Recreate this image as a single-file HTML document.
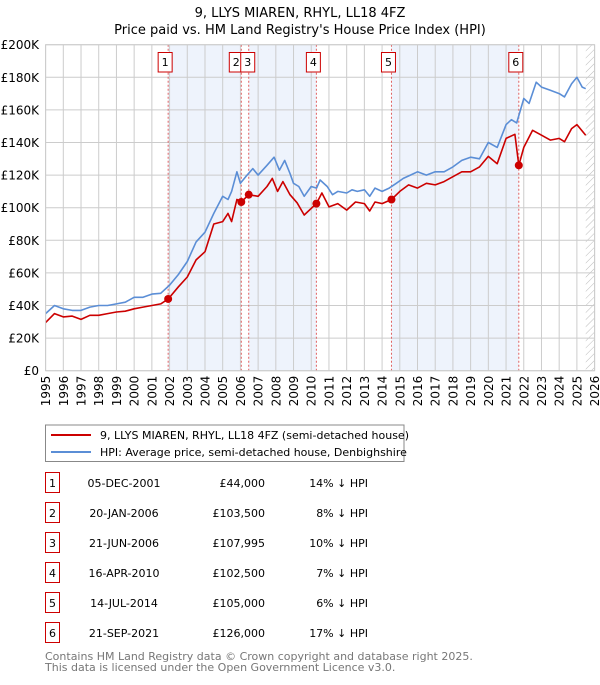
<!DOCTYPE html>
<html><head><meta charset="utf-8"><style>
body{margin:0;background:#fff;font-family:"Liberation Sans","DejaVu Sans",sans-serif;}
svg text{font-family:"DejaVu Sans","Liberation Sans",sans-serif;}
</style></head><body>
<svg id="c" width="600" height="680" xmlns="http://www.w3.org/2000/svg">
<defs><pattern id="hatch" width="5" height="5" patternUnits="userSpaceOnUse" patternTransform="rotate(45)"><line x1="0" y1="0" x2="0" y2="5" stroke="#bbb" stroke-width="1"/></pattern></defs>
<text x="300" y="17" text-anchor="middle" font-size="13">9, LLYS MIAREN, RHYL, LL18 4FZ</text>
<text x="300" y="34" text-anchor="middle" font-size="13">Price paid vs. HM Land Registry's House Price Index (HPI)</text>
<g id="plot"></g>
<rect x="45.5" y="425" width="358.5" height="36.5" fill="#fff" stroke="#888"/>
<line x1="51" y1="435" x2="91" y2="435" stroke="#cc0000" stroke-width="2"/>
<text x="100" y="439" font-size="11">9, LLYS MIAREN, RHYL, LL18 4FZ (semi-detached house)</text>
<line x1="51" y1="452" x2="91" y2="452" stroke="#5b8ed6" stroke-width="2"/>
<text x="100" y="456" font-size="11">HPI: Average price, semi-detached house, Denbighshire</text>
<g id="table"></g>
<text x="45" y="660" font-size="11" fill="#777">Contains HM Land Registry data © Crown copyright and database right 2025.</text>
<text x="45" y="671" font-size="11" fill="#777">This data is licensed under the Open Government Licence v3.0.</text>
</svg>
<script>
const hpiYears=[1995,1995.5,1996,1996.5,1997,1997.5,1998,1998.5,1999,1999.5,2000,2000.5,2001,2001.5,2002,2002.5,2003,2003.5,2004,2004.5,2005,2005.3,2005.5,2005.8,2006,2006.3,2006.7,2007,2007.5,2007.9,2008.2,2008.5,2008.8,2009,2009.3,2009.6,2010,2010.3,2010.5,2010.9,2011.2,2011.5,2012,2012.3,2012.6,2013,2013.3,2013.6,2014,2014.4,2014.8,2015.2,2015.6,2016,2016.5,2017,2017.5,2018,2018.5,2019,2019.5,2020,2020.5,2021,2021.3,2021.6,2022,2022.3,2022.7,2023,2023.5,2024,2024.3,2024.7,2025,2025.3,2025.5];
const hpiValues=[35,40,38,37,37,39,40,40,41,42,45,45,47,47.5,52.5,59,67,79,85,96.5,107,105,110,122,115,119,124,120,126,131,123,129,121,115,113,107,113,112,117,113,108,110,109,111,110,111,107,112,110,112,115,118,120,122,120,122,122,125,129,131,130,140,137,151,154,152,167,164,177,174,172,170,168,176,180,174,173];
const propYears=[1995,1995.5,1996,1996.5,1997,1997.5,1998,1998.5,1999,1999.5,2000,2000.5,2001,2001.5,2001.92,2002.5,2003,2003.5,2004,2004.5,2005,2005.3,2005.5,2005.8,2006.05,2006.47,2007,2007.5,2007.8,2008.1,2008.4,2008.8,2009.2,2009.6,2010.29,2010.6,2011,2011.5,2012,2012.5,2013,2013.3,2013.6,2014,2014.53,2015,2015.5,2016,2016.5,2017,2017.5,2018,2018.5,2019,2019.5,2020,2020.5,2021,2021.5,2021.72,2022,2022.5,2023,2023.5,2024,2024.3,2024.7,2025,2025.5];
const propValues=[29.5,35,33,33.5,31.5,34,34,35,36,36.5,38,39,40,41,44,51.5,57.5,68,73,90,91.5,96.5,91.5,105,103.5,108,107,113,118,110,116,108,103,95.5,102.5,109,100.5,102.5,98.5,103.5,102.5,98,103.5,102.5,105,110,114,112,115,114,116,119,122,122,125,131.5,127,142.5,145,126,137,147.5,144.5,141.5,142.5,140.5,148.5,151,144.5];
const saleYears=[2001.92,2006.05,2006.47,2010.29,2014.53,2021.72];
const salePrices=[44000,103500,107995,102500,105000,126000];
const saleLabels=["1","2","3","4","5","6"];
const saleDates=["05-DEC-2001","20-JAN-2006","21-JUN-2006","16-APR-2010","14-JUL-2014","21-SEP-2021"];
const salePriceText=["£44,000","£103,500","£107,995","£102,500","£105,000","£126,000"];
const saleHpiText=["14% ↓ HPI","8% ↓ HPI","10% ↓ HPI","7% ↓ HPI","6% ↓ HPI","17% ↓ HPI"];
const yTicks=[0,20,40,60,80,100,120,140,160,180,200];
const yTickLabels=["£0","£20K","£40K","£60K","£80K","£100K","£120K","£140K","£160K","£180K","£200K"];

const NS="http://www.w3.org/2000/svg";
const X0=45.6,X1=594.6,Y0=370.7,Y1=44.7;
const xs=y=>X0+(y-1995)/(2026-1995)*(X1-X0);
const ys=v=>Y0-v/200*(Y0-Y1);
function mk(tag,attrs,parent){const e=document.createElementNS(NS,tag);for(const k in attrs)e.setAttribute(k,attrs[k]);parent.appendChild(e);return e;}
const plot=document.getElementById('plot');
// shaded spans
[[0,1],[2,3],[4,5]].forEach(p=>{
 const r=mk('rect',{x:xs(saleYears[p[0]]),y:Y1,width:xs(saleYears[p[1]])-xs(saleYears[p[0]]),height:Y0-Y1,fill:'#eef3fc'},plot);
 
 
});
const hx=xs(2025.5);
const hr=mk('rect',{x:hx,y:Y1,width:X1-hx,height:Y0-Y1,fill:'url(#hatch)'},plot);


// grid
for(let yr=1995;yr<=2026;yr++){
 const g=mk('line',{x1:xs(yr),x2:xs(yr),y1:Y1,y2:Y0,stroke:'#ccc','stroke-width':1},plot);
 
 
 const t=mk('text',{transform:`translate(${xs(yr)+4.5},${Y0+5}) rotate(-90)`,'text-anchor':'end','font-size':12},plot);
 t.textContent=yr;
 
 
}
yTicks.forEach((v,i)=>{
 const g=mk('line',{x1:X0,x2:X1,y1:ys(v),y2:ys(v),stroke:'#ccc','stroke-width':1},plot);
 
 
 const t=mk('text',{x:39,y:ys(v)+4.5,'text-anchor':'end','font-size':12},plot);
 t.textContent=yTickLabels[i];
 
 
});
// sale vlines
saleYears.forEach(y=>{
 const l=mk('line',{x1:xs(y),x2:xs(y),y1:Y1,y2:Y0,stroke:'#e06060','stroke-width':1,'stroke-dasharray':'2,2'},plot);
 
 
});
function path(xa,va,col,name){
 const d=xa.map((x,i)=>(i?'L':'M')+xs(x).toFixed(1)+','+ys(va[i]).toFixed(1)).join('');
 const p=mk('path',{d:d,fill:'none',stroke:col,'stroke-width':1.6,'stroke-linejoin':'round'},plot);
 
 
}
path(hpiYears,hpiValues,'#5b8ed6','hpi-line');
path(propYears,propValues,'#cc0000','property-line');
saleYears.forEach((y,i)=>{
 const c=mk('circle',{cx:xs(y),cy:ys(salePrices[i]/1000),r:4,fill:'#cc0000'},plot);
 
 
 let bx=xs(y)-3;
 if(i===1)bx=xs(y)-5; if(i===2)bx=xs(y)-1;
 const r=mk('rect',{x:bx-7,y:52.5,width:14,height:19.5,fill:'#fff',stroke:'#cc0000','stroke-width':1},plot);
 
 
 const t=mk('text',{x:bx,y:66,'text-anchor':'middle','font-size':11},plot);
 t.textContent=saleLabels[i];
 
 
});
mk('rect',{x:X0,y:Y1,width:X1-X0,height:Y0-Y1,fill:'none',stroke:'#ccc'},plot);
// table
const tb=document.getElementById('table');
saleYears.forEach((y,i)=>{
 const cy=483+i*30;
 const r=mk('rect',{x:45.5,y:cy-10.5,width:14,height:20,fill:'#fff',stroke:'#cc0000'},tb);
 
 
 const cells=[[52.5,'middle',saleLabels[i],'table-index'],[124,'middle',saleDates[i],'table-date'],[265,'end',salePriceText[i],'table-price'],[368,'end',saleHpiText[i],'table-hpi-diff']];
 cells.forEach(c=>{
  const t=mk('text',{x:c[0],y:cy+4,'text-anchor':c[1],'font-size':11},tb);
  t.textContent=c[2];
  
  
 });
});
</script>
</body></html>
